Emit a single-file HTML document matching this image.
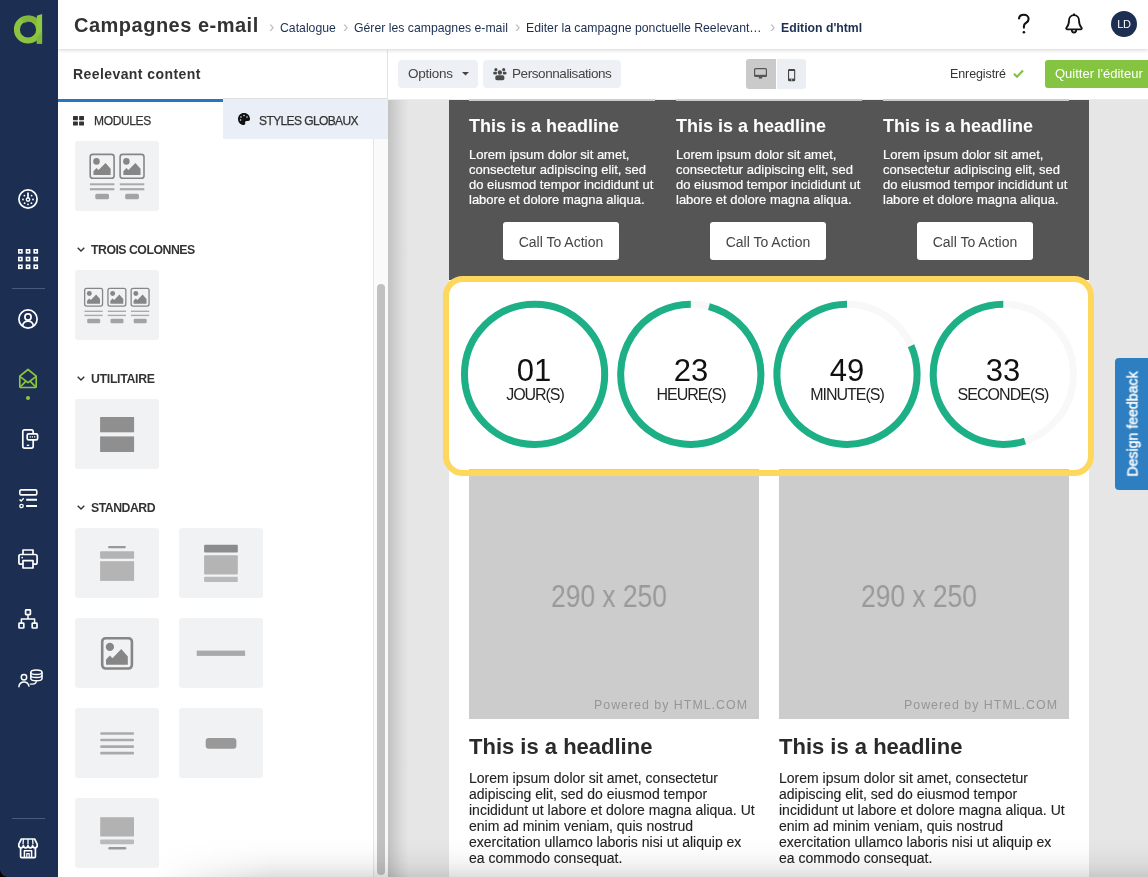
<!DOCTYPE html>
<html lang="fr">
<head>
<meta charset="utf-8">
<title>Campagnes e-mail</title>
<style>
*{box-sizing:border-box;margin:0;padding:0}
html,body{width:1148px;height:877px;overflow:hidden;background:#fff;font-family:"Liberation Sans",sans-serif;color:#333}
.abs{position:absolute}
#title,.bc,.bcsep,.btn span,.sect,.hl,.tx,.cta,.num,.lab,.t{will-change:transform}
#nav{position:absolute;left:0;top:0;width:58px;height:877px;background:#1c2f52;z-index:30}
#nav svg{position:absolute;left:17px}
#nav .sep{position:absolute;left:12px;width:33px;height:1px;background:#4a5a7a}
#header{position:absolute;left:58px;top:0;width:1090px;height:49px;background:#fff;z-index:20;box-shadow:0 1px 4px rgba(0,0,0,.18)}
#title{position:absolute;left:15.7px;top:14px;font-size:20px;font-weight:bold;color:#333;white-space:nowrap;letter-spacing:.5px}
.bc{position:absolute;top:21px;font-size:12.25px;color:#1c2f52;white-space:nowrap}
.bcsep{position:absolute;top:17.5px;font-size:16px;color:#b9bcc2}
#sub{position:absolute;left:58px;top:50px;width:1090px;height:49px;background:#fff;z-index:10}
#panel{position:absolute;left:58px;top:98px;width:330px;height:779px;background:#fff;z-index:5}
#canvas{position:absolute;left:388px;top:98px;width:760px;height:779px;background:#e6e6e6;overflow:hidden}
.btn{position:absolute;background:#edf1f5;border-radius:4px;font-size:13.5px;color:#444;white-space:nowrap}
.mod{position:absolute;width:84px;height:70px;background:#f1f2f4;border-radius:3px}
.sect{position:absolute;left:33px;font-size:12.3px;font-weight:bold;color:#333;white-space:nowrap;letter-spacing:-.5px}
.chev{position:absolute;left:19px}
.hl{position:absolute;font-weight:bold;white-space:nowrap}
.tx{position:absolute;font-size:14px;line-height:15px;white-space:nowrap}
.cta{position:absolute;width:116px;height:38px;background:#fff;border-radius:3px;color:#444;font-size:14px;text-align:center;line-height:40px}
.ph{position:absolute;background:#ccc}
.num{position:absolute;width:140px;text-align:center;font-size:31px;color:#111;white-space:nowrap}
.lab{position:absolute;width:140px;text-align:center;font-size:16px;color:#222;white-space:nowrap;letter-spacing:-.6px}
</style>
</head>
<body>
<!-- NAV -->
<div id="nav">
  <!-- logo -->
  <svg style="left:12px;top:12px" width="34" height="34" viewBox="0 0 34 34">
    <circle cx="16" cy="17.500" r="11.100" fill="none" stroke="#8bc53f" stroke-width="6"/>
    <path fill="#7fb23c" opacity=".8" d="M9.300 6.200a14.300 14.300 0 0 1 15.500-.3v6.700a8.300 8.300 0 0 0-12-1.400z"/>
    <path fill="#8fc940" d="M24.800 3.800L30.100 2v29.800h-5.300z"/>
    <path fill="#7fb23c" opacity=".8" d="M24.800 25.500l5.300-6.500v12.800h-5.300z"/>
  </svg>
  <!-- 1 dashboard -->
  <svg style="top:189px" width="22" height="20" viewBox="-1 0 22 20" fill="none" stroke="#fff" stroke-width="1.7">
    <circle cx="10" cy="10" r="9.1"/>
    <circle cx="10" cy="10.6" r="1.7" stroke-width="1.4"/>
    <path d="M10 8.8V4.2" stroke-linecap="round"/>
    <g fill="#fff" stroke="none"><circle cx="5" cy="10.5" r=".9"/><circle cx="15" cy="10.5" r=".9"/><circle cx="6.4" cy="6.6" r=".9"/><circle cx="13.6" cy="6.6" r=".9"/><circle cx="6.6" cy="14.2" r=".9"/><circle cx="13.4" cy="14.2" r=".9"/><circle cx="10" cy="15.4" r=".9"/></g>
  </svg>
  <!-- 2 grid -->
  <svg style="top:249px" width="22" height="21" viewBox="-1 0 22 21" fill="none" stroke="#fff" stroke-width="1.600">
    <rect x="0.80" y="0.80" width="3.100" height="3.100"/><rect x="8.50" y="0.80" width="3.100" height="3.100"/><rect x="16.20" y="0.80" width="3.100" height="3.100"/><rect x="0.80" y="8.50" width="3.100" height="3.100"/><rect x="8.50" y="8.50" width="3.100" height="3.100"/><rect x="16.20" y="8.50" width="3.100" height="3.100"/><rect x="0.80" y="16.20" width="3.100" height="3.100"/><rect x="8.50" y="16.20" width="3.100" height="3.100"/><rect x="16.20" y="16.20" width="3.100" height="3.100"/>
  </svg>
  <div class="sep" style="top:288px"></div>
  <!-- 3 user circle -->
  <svg style="top:309px" width="22" height="20" viewBox="-1 0 22 20" fill="none" stroke="#fff" stroke-width="1.7">
    <circle cx="10" cy="10" r="9.1"/>
    <circle cx="10" cy="8" r="3.1"/>
    <path d="M4.6 17c.4-3 2.6-4.9 5.4-4.9s5 1.900 5.400 4.900"/>
  </svg>
  <!-- 4 envelope (active) -->
  <svg style="top:368px" width="22" height="21" viewBox="-1 0 22 21" fill="none" stroke="#8cc63f" stroke-width="1.7" stroke-linejoin="round">
    <path d="M1.800 8.200L10 1.500l8.200 6.700v10.300a1 1 0 0 1-1 1H2.800a1 1 0 0 1-1-1z"/>
    <path d="M1.800 8.400L10 14.600l8.200-6.200"/>
    <path d="M2.200 19l5.800-5.900M17.800 19L12 13.100"/>
  </svg>
  <div style="position:absolute;left:26px;top:396px;width:4px;height:4px;border-radius:2px;background:#8cc63f"></div>
  <!-- 5 phone message -->
  <svg style="top:429px;left:21px" width="18" height="20" viewBox="0 0 18 20" fill="none" stroke="#fff" stroke-width="1.7" stroke-linejoin="round">
    <rect x="1.800" y=".9" width="10.400" height="18.200" rx="1.800"/>
    <rect x="6.200" y="4.800" width="10.400" height="6" rx="1.400" fill="#1c2f52"/>
    <path d="M8.600 7.800h5.600" stroke-width="1.200" stroke-dasharray="1.200 1" />
    <path d="M5.800 16.300h2.400" stroke-width="1.300"/>
  </svg>
  <!-- 6 checklist -->
  <svg style="top:489px" width="22" height="20" viewBox="-1 0 22 20" fill="none" stroke="#fff" stroke-width="1.600">
    <rect x="1.800" y=".9" width="17" height="5" rx="1.400"/>
    <path d="M3.800 3.400h.1" stroke-width="1.200"/>
    <path d="M1.600 10.600l1.500 1.500 2.600-2.900" stroke-width="1.400"/>
    <path d="M8.200 10.800h10.800M8.200 17h10.800" stroke-width="2"/>
    <circle cx="3.500" cy="17" r="1.700" stroke-width="1.300"/>
  </svg>
  <!-- 7 printer -->
  <svg style="top:549px" width="22" height="20" viewBox="-1 0 22 20" fill="none" stroke="#fff" stroke-width="1.700" stroke-linejoin="round">
    <path d="M5 5.400V1h10v4.400"/>
    <path d="M5 15.200H2.600A1.700 1.700 0 0 1 .9 13.500V7.300a1.800 1.800 0 0 1 1.800-1.800h14.600a1.800 1.800 0 0 1 1.800 1.800v6.200a1.700 1.700 0 0 1-1.700 1.700H15"/>
    <rect x="5" y="11.600" width="10" height="7.400"/>
    <circle cx="4.200" cy="8.600" r=".9" fill="#fff" stroke="none"/>
  </svg>
  <!-- 8 org chart -->
  <svg style="top:609px" width="22" height="20" viewBox="-1 0 22 20" fill="none" stroke="#fff" stroke-width="1.700" stroke-linejoin="round">
    <rect x="7.600" y=".9" width="4.800" height="4.800" rx=".6"/>
    <rect x="1" y="14.200" width="4.800" height="4.800" rx=".6"/>
    <rect x="14.200" y="14.200" width="4.800" height="4.800" rx=".6"/>
    <path d="M10 5.700V10M3.400 14.200V10h13.200v4.200" stroke-width="1.500"/>
  </svg>
  <!-- 9 user db -->
  <svg style="top:669px" width="27" height="20" viewBox="-1 0 27 20" fill="none" stroke="#fff" stroke-width="1.500" stroke-linejoin="round">
    <circle cx="6" cy="8.300" r="2.700"/>
    <path d="M.8 18.200c.3-3.400 2.400-5.200 5.200-5.200s4.500 1.500 5.100 4.700"/>
    <ellipse cx="18.400" cy="3.200" rx="5.600" ry="2.300"/>
    <path d="M12.800 3.200v6.200c0 1.300 2.500 2.300 5.600 2.300s5.600-1 5.600-2.300V3.200"/>
    <path d="M12.800 6.300c0 1.300 2.500 2.300 5.600 2.300s5.600-1 5.600-2.300"/>
    <path d="M18.400 11.800c0 2-1.600 3.300-4 3.300h-2.600" stroke-width="1.300"/>
  </svg>
  <div class="sep" style="top:818px"></div>
  <!-- 10 store -->
  <svg style="top:838px" width="22" height="21" viewBox="-1 0 22 21" fill="none" stroke="#fff" stroke-width="1.700" stroke-linejoin="round">
    <path d="M3.400 1h13.200l2.600 5.200v1.300a2.300 2.300 0 0 1-4.600 0a2.300 2.300 0 0 1-4.600 0a2.300 2.300 0 0 1-4.600 0a2.300 2.300 0 0 1-4.600 0V6.200z"/>
    <path d="M5.400 1.200L5 6.400M10 1.200v5.200M14.600 1.200l.4 5.200" stroke-width="1.300"/>
    <path d="M2.600 9.600v9a1 1 0 0 0 1 1h12.800a1 1 0 0 0 1-1v-9"/>
    <path d="M6.400 19.400v-6.600h7.200v6.600" stroke-width="1.500"/>
    <path d="M8.800 19.400v-3.800h2.400v3.800" stroke-width="1.200"/>
  </svg>
  <div style="position:absolute;left:0;bottom:0;width:8px;height:8px;background:radial-gradient(circle at 8px 0,rgba(0,0,0,0) 7.500px,#100 8.200px)"></div>
</div>

<!-- HEADER -->
<div id="header">
  <div id="title">Campagnes e-mail</div>
  <div class="bcsep" style="left:211px">&#8250;</div>
  <div class="bc" style="left:222px">Catalogue</div>
  <div class="bcsep" style="left:284.500px">&#8250;</div>
  <div class="bc" style="left:295.500px">Gérer les campagnes e-mail</div>
  <div class="bcsep" style="left:457px">&#8250;</div>
  <div class="bc" style="left:468px">Editer la campagne ponctuelle Reelevant…</div>
  <div class="bcsep" style="left:712px">&#8250;</div>
  <div class="bc" style="left:723px;font-weight:bold">Edition d'html</div>
  <!-- help -->
  <svg class="abs" style="left:958px;top:13px" width="16" height="22" viewBox="0 0 16 22" fill="none" stroke="#111" stroke-width="2.100" stroke-linecap="round">
    <path d="M3 5.400C3.400 3 5.400 1.800 7.800 1.800c2.800 0 4.800 1.700 4.800 4.200c0 2.400-1.600 3.200-3 4.200c-1.200.9-1.700 1.700-1.700 3.400v1"/>
    <circle cx="7.900" cy="19.300" r="1.300" fill="#111" stroke="none"/>
  </svg>
  <!-- bell -->
  <svg class="abs" style="left:1006px;top:13px" width="20" height="22" viewBox="0 0 20 22" fill="none" stroke="#111" stroke-width="1.800" stroke-linejoin="round" stroke-linecap="round">
    <path d="M10 2.200c-3.200 0-5 2.400-5 5.400c0 3.400-.8 5.300-2.600 7.200c-.5.600-.2 1.500.7 1.500h13.800c.9 0 1.200-.9.700-1.500c-1.800-1.900-2.600-3.800-2.600-7.200c0-3-1.800-5.400-5-5.400z"/>
    <path d="M10 2.200V1.200"/>
    <path d="M7.800 17c0 1.500 1 2.500 2.200 2.500s2.200-1 2.200-2.500"/>
  </svg>
  <div class="abs t" style="left:1053px;top:11px;width:26px;height:26px;border-radius:13px;background:#1c2f52;color:#fff;font-size:11px;text-align:center;line-height:26px;letter-spacing:-.3px">LD</div>
</div>

<!-- SUB HEADER -->
<div id="sub">
  <div class="abs t" style="left:14.500px;top:15.600px;font-size:14px;font-weight:bold;color:#333;letter-spacing:.42px;white-space:nowrap">Reelevant content</div>
  <div class="abs" style="left:329px;top:0;width:1px;height:49px;background:#e4e4e4"></div>
  <div class="abs" style="left:165px;top:48px;width:165px;height:1px;background:#e0e0e0"></div>
  <div class="btn" style="left:340px;top:10px;width:80px;height:28px"><span class="abs" style="left:10px;top:6px;letter-spacing:-.25px">Options</span>
    <svg class="abs" style="left:63.500px;top:12.400px" width="7" height="4" viewBox="0 0 7 4"><path d="M0 0h7L3.500 3.600z" fill="#444"/></svg></div>
  <div class="btn" style="left:425px;top:10px;width:138px;height:28px">
    <svg class="abs" style="left:9.800px;top:7.600px" width="14" height="13" viewBox="0 0 14 13" fill="#4a4a4a"><circle cx="2.900" cy="1.700" r="1.600"/><circle cx="10.700" cy="1.700" r="1.600"/><rect x=".2" y="3.700" width="3.800" height="2.800" rx="1.100"/><rect x="9.700" y="3.700" width="3.800" height="2.800" rx="1.100"/><circle cx="6.850" cy="4.500" r="2.900" fill="#edf1f5"/><circle cx="6.850" cy="4.500" r="2.200"/><path d="M2.300 10.600V9.300c0-1.200.9-2 2.100-2h4.900c1.200 0 2.100.8 2.100 2v1.300c0 .9-.7 1.600-1.600 1.600H3.900c-.9 0-1.600-.7-1.600-1.600z"/></svg>
    <span class="abs" style="left:28.800px;top:6px;letter-spacing:-.42px">Personnalisations</span></div>
  <div class="abs" style="left:688px;top:9px;width:30px;height:30px;background:#cacaca;border-radius:3px 0 0 3px">
    <svg class="abs" style="left:8.400px;top:8.600px" width="13" height="11" viewBox="0 0 13 11"><rect x=".6" y=".6" width="11.800" height="7.800" rx="1" fill="none" stroke="#555" stroke-width="1.200"/><rect x=".6" y="6.800" width="11.800" height="1.800" fill="#555"/><rect x="4.800" y="8.600" width="3.400" height="2" fill="#555"/></svg></div>
  <div class="abs" style="left:719px;top:9px;width:29px;height:30px;background:#ebeff3;border-radius:0 3px 3px 0">
    <svg class="abs" style="left:10.800px;top:9.800px" width="8" height="13" viewBox="0 0 8 13"><rect x="0" y="0" width="7.200" height="12.200" rx="1.300" fill="#444"/><rect x="1.100" y="2" width="5" height="7.600" fill="#ebeff3"/><circle cx="3.600" cy="10.900" r=".6" fill="#ebeff3"/></svg></div>
  <div class="abs t" style="left:892.300px;top:17.200px;font-size:12.500px;color:#333;white-space:nowrap;letter-spacing:-.1px">Enregistré</div>
  <svg class="abs" style="left:955.400px;top:18.800px" width="11" height="9" viewBox="0 0 11 9"><path d="M1 4.700l3 3L10 1.400" fill="none" stroke="#82c341" stroke-width="2.200"/></svg>
  <div class="abs" style="left:987px;top:10px;width:110px;height:28px;background:#85c441;border-radius:3px 0 0 3px;color:#fff;font-size:13px;white-space:nowrap"><span class="abs t" style="left:10.400px;top:6px">Quitter l'éditeur</span></div>
</div>

<!-- PANEL -->
<div id="panel">
  <div class="abs" style="left:0;top:1px;width:165px;height:3px;background:#2479be"></div>
  <div class="abs" style="left:165px;top:0;width:165px;height:41px;background:#e9eef7"></div>
  <svg class="abs" style="left:15px;top:17.600px" width="11" height="10" viewBox="0 0 11 10" fill="#333"><rect x="0" y="0" width="4.900" height="4.200" rx=".6"/><rect x="6.100" y="0" width="4.900" height="4.200" rx=".6"/><rect x="0" y="5.400" width="4.900" height="4.200" rx=".6"/><rect x="6.100" y="5.400" width="4.900" height="4.200" rx=".6"/></svg>
  <div class="abs t" style="left:35.500px;top:15.500px;font-size:12px;color:#333;letter-spacing:-.35px;-webkit-text-stroke:.25px #333;white-space:nowrap">MODULES</div>
  <svg class="abs" style="left:180px;top:15px" width="12" height="12" viewBox="0 0 12 12"><path fill="#111" d="M6 0C2.600 0 0 2.600 0 6s2.600 6 5.700 6c1.300 0 1.800-1 1.500-1.900c-.4-1.200.3-2.100 1.600-2.100h1.400C11.300 8 12 7.300 12 6C12 2.600 9.400 0 6 0z"/><circle cx="3" cy="4" r=".8" fill="#e9eef7"/><circle cx="6" cy="2.500" r=".8" fill="#e9eef7"/><circle cx="9" cy="4" r=".8" fill="#e9eef7"/><circle cx="2.600" cy="7" r=".8" fill="#e9eef7"/></svg>
  <div class="abs t" style="left:200.600px;top:15.500px;font-size:12px;color:#333;letter-spacing:-.6px;-webkit-text-stroke:.25px #333;white-space:nowrap">STYLES GLOBAUX</div>
  <div class="abs" style="left:315px;top:41px;width:15px;height:738px;background:#fafafa;border-left:1px solid #e6e6e6"></div>
  <div class="abs" style="left:319px;top:186px;width:8px;height:591px;border-radius:4px;background:#c1c1c1"></div>
  <div class="mod" style="left:17px;top:43px"><svg width="84" height="70" viewBox="0 0 84 70"><rect x="15.20" y="13.40" width="23.90" height="23.90" rx="2.6" fill="none" stroke="#868686" stroke-width="1.6"/><circle cx="21.49" cy="20.38" r="3.26" fill="#868686"/><path fill="#868686" d="M18.45 34.12L18.45 30.14L21.49 27.03L23.50 29.12L30.52 21.88L35.64 27.75L35.64 34.12z"/><rect x="14.9" y="42.300" width="24.500" height="2" fill="#aaa"/><rect x="14.9" y="47.100" width="24.500" height="2.200" fill="#aaa"/><rect x="20.3" y="52.800" width="13.700" height="5.400" rx="1.500" fill="#a3a3a3"/><rect x="45.10" y="13.40" width="23.90" height="23.90" rx="2.6" fill="none" stroke="#868686" stroke-width="1.6"/><circle cx="51.39" cy="20.38" r="3.26" fill="#868686"/><path fill="#868686" d="M48.35 34.12L48.35 30.14L51.39 27.03L53.40 29.12L60.42 21.88L65.54 27.75L65.54 34.12z"/><rect x="44.8" y="42.300" width="24.500" height="2" fill="#aaa"/><rect x="44.8" y="47.100" width="24.500" height="2.200" fill="#aaa"/><rect x="50.2" y="52.800" width="13.700" height="5.400" rx="1.500" fill="#a3a3a3"/></svg></div>
  <svg class="chev" style="top:149px" width="8" height="5" viewBox="0 0 8 5"><path d="M.7.700L4 4l3.300-3.300" fill="none" stroke="#333" stroke-width="1.400"/></svg>
  <div class="sect" style="top:145px">TROIS COLONNES</div>
  <div class="mod" style="left:17px;top:172px"><svg width="84" height="70" viewBox="0 0 84 70"><rect x="9.65" y="18.35" width="17.90" height="17.70" rx="2.0" fill="none" stroke="#868686" stroke-width="1.3"/><circle cx="14.34" cy="23.49" r="2.46" fill="#868686"/><path fill="#868686" d="M12.05 33.74L12.05 30.77L14.34 28.45L15.85 30.01L21.13 24.62L24.99 28.99L24.99 33.74z"/><rect x="9.5" y="40.600" width="18.200" height="1.400" fill="#aaa"/><rect x="9.5" y="44.700" width="18.200" height="1.400" fill="#aaa"/><rect x="12.2" y="48.800" width="13" height="4.400" rx="1.200" fill="#a3a3a3"/><rect x="32.95" y="18.35" width="17.90" height="17.70" rx="2.0" fill="none" stroke="#868686" stroke-width="1.3"/><circle cx="37.64" cy="23.49" r="2.46" fill="#868686"/><path fill="#868686" d="M35.35 33.74L35.35 30.77L37.64 28.45L39.15 30.01L44.43 24.62L48.29 28.99L48.29 33.74z"/><rect x="32.8" y="40.600" width="18.200" height="1.400" fill="#aaa"/><rect x="32.8" y="44.700" width="18.200" height="1.400" fill="#aaa"/><rect x="35.5" y="48.800" width="13" height="4.400" rx="1.200" fill="#a3a3a3"/><rect x="56.15" y="18.35" width="17.90" height="17.70" rx="2.0" fill="none" stroke="#868686" stroke-width="1.3"/><circle cx="60.84" cy="23.49" r="2.46" fill="#868686"/><path fill="#868686" d="M58.55 33.74L58.55 30.77L60.84 28.45L62.35 30.01L67.63 24.62L71.49 28.99L71.49 33.74z"/><rect x="56.0" y="40.600" width="18.200" height="1.400" fill="#aaa"/><rect x="56.0" y="44.700" width="18.200" height="1.400" fill="#aaa"/><rect x="58.7" y="48.800" width="13" height="4.400" rx="1.200" fill="#a3a3a3"/></svg></div>
  <svg class="chev" style="top:278px" width="8" height="5" viewBox="0 0 8 5"><path d="M.7.700L4 4l3.300-3.300" fill="none" stroke="#333" stroke-width="1.400"/></svg>
  <div class="sect" style="top:273.500px;letter-spacing:-.3px">UTILITAIRE</div>
  <div class="mod" style="left:17px;top:301px"><svg width="84" height="70" viewBox="0 0 84 70"><rect x="25.100" y="18" width="34" height="15.300" fill="#8f8f8f"/><rect x="25.100" y="37.400" width="34" height="15.600" fill="#8f8f8f"/></svg></div>
  <svg class="chev" style="top:407px" width="8" height="5" viewBox="0 0 8 5"><path d="M.7.700L4 4l3.300-3.300" fill="none" stroke="#333" stroke-width="1.400"/></svg>
  <div class="sect" style="top:402.500px">STANDARD</div>
  <div class="mod" style="left:17px;top:430px"><svg width="84" height="70" viewBox="0 0 84 70"><rect x="33" y="17.900" width="17.900" height="2.400" rx="1.200" fill="#999"/><rect x="25.100" y="23.300" width="34" height="7.400" rx="1" fill="#b4b4b4"/><rect x="25.100" y="33.200" width="34" height="19.700" fill="#b4b4b4"/></svg></div>
  <div class="mod" style="left:121px;top:430px"><svg width="84" height="70" viewBox="0 0 84 70"><rect x="25.100" y="16.800" width="33.700" height="7.600" rx="1" fill="#8c8c8c"/><rect x="25.100" y="27.200" width="33.700" height="19.400" rx="1" fill="#b4b4b4"/><rect x="25.100" y="48.800" width="33.700" height="5.200" rx="1" fill="#bababa"/></svg></div>
  <div class="mod" style="left:17px;top:520px"><svg width="84" height="70" viewBox="0 0 84 70"><rect x="27.20" y="20.20" width="29.70" height="30.30" rx="3.4" fill="none" stroke="#868686" stroke-width="2.6"/><circle cx="34.88" cy="28.93" r="4.13" fill="#868686"/><path fill="#868686" d="M31.04 46.67L31.04 41.54L34.88 37.52L37.43 40.22L46.31 30.88L52.81 38.44L52.81 46.67z"/></svg></div>
  <div class="mod" style="left:121px;top:520px"><svg width="84" height="70" viewBox="0 0 84 70"><rect x="17.700" y="32.600" width="48.400" height="5.300" fill="#aaa"/></svg></div>
  <div class="mod" style="left:17px;top:610px"><svg width="84" height="70" viewBox="0 0 84 70"><rect x="25.200" y="24.2" width="33.800" height="2.600" rx="1" fill="#aaa"/><rect x="25.200" y="30.7" width="33.800" height="2.600" rx="1" fill="#aaa"/><rect x="25.200" y="37.3" width="33.800" height="2.600" rx="1" fill="#aaa"/><rect x="25.200" y="43.8" width="33.800" height="2.600" rx="1" fill="#aaa"/></svg></div>
  <div class="mod" style="left:121px;top:610px"><svg width="84" height="70" viewBox="0 0 84 70"><rect x="26.700" y="30.100" width="30.700" height="10.600" rx="3" fill="#999"/></svg></div>
  <div class="mod" style="left:17px;top:700px"><svg width="84" height="70" viewBox="0 0 84 70"><rect x="25.200" y="19.200" width="33.800" height="19.300" fill="#b2b2b2"/><rect x="25.200" y="41.600" width="33.800" height="4.600" rx="1" fill="#bababa"/><rect x="33.300" y="49" width="18" height="2.500" rx="1.200" fill="#999"/></svg></div>
</div>

<!-- CANVAS -->
<div id="canvas">
<div class="abs" style="left:0;top:0;width:21px;height:779px;background:linear-gradient(90deg,#c2c2c2 0,#cdcdcd 28%,#dadada 60%,#e6e6e6 100%)"></div>
<div class="abs" style="left:61px;top:1px;width:640px;height:778px;background:#fff"></div>
<div class="abs" style="left:0;top:1px;width:760px;height:1px;background:#ececec"></div>
<div class="abs" style="left:61px;top:2px;width:640px;height:180px;background:#555"></div>
<div class="ph" style="left:81px;top:0;width:186px;height:3px"></div>
<div class="hl" style="left:81px;top:18.0px;font-size:18px;line-height:20px;color:#fff">This is a headline</div>
<div class="tx" style="left:81px;top:49.0px;font-size:13px;line-height:15px;color:#fff;-webkit-text-stroke:.2px #fff">Lorem ipsum dolor sit amet,<br>consectetur adipiscing elit, sed<br>do eiusmod tempor incididunt ut<br>labore et dolore magna aliqua.</div>
<div class="cta" style="left:115px;top:124px">Call To Action</div>
<div class="ph" style="left:288px;top:0;width:186px;height:3px"></div>
<div class="hl" style="left:288px;top:18.0px;font-size:18px;line-height:20px;color:#fff">This is a headline</div>
<div class="tx" style="left:288px;top:49.0px;font-size:13px;line-height:15px;color:#fff;-webkit-text-stroke:.2px #fff">Lorem ipsum dolor sit amet,<br>consectetur adipiscing elit, sed<br>do eiusmod tempor incididunt ut<br>labore et dolore magna aliqua.</div>
<div class="cta" style="left:322px;top:124px">Call To Action</div>
<div class="ph" style="left:495px;top:0;width:186px;height:3px"></div>
<div class="hl" style="left:495px;top:18.0px;font-size:18px;line-height:20px;color:#fff">This is a headline</div>
<div class="tx" style="left:495px;top:49.0px;font-size:13px;line-height:15px;color:#fff;-webkit-text-stroke:.2px #fff">Lorem ipsum dolor sit amet,<br>consectetur adipiscing elit, sed<br>do eiusmod tempor incididunt ut<br>labore et dolore magna aliqua.</div>
<div class="cta" style="left:529px;top:124px">Call To Action</div>
<svg class="abs" style="left:61px;top:182px" width="640" height="190" viewBox="449 280 640 190"><circle cx="534.6" cy="374.3" r="70.1" fill="none" stroke="#f8f8f8" stroke-width="7.0"/><circle cx="534.6" cy="374.3" r="70.1" fill="none" stroke="#1daf85" stroke-width="7.0"/><circle cx="690.8" cy="374.3" r="70.1" fill="none" stroke="#f8f8f8" stroke-width="7.0"/><path d="M690.80 304.20A70.1 70.1 0 1 0 708.94 306.59" fill="none" stroke="#1daf85" stroke-width="7.0"/><circle cx="847.0" cy="374.3" r="70.1" fill="none" stroke="#f8f8f8" stroke-width="7.0"/><path d="M847.00 304.20A70.1 70.1 0 1 0 911.04 345.79" fill="none" stroke="#1daf85" stroke-width="7.0"/><circle cx="1003.3" cy="374.3" r="70.1" fill="none" stroke="#f8f8f8" stroke-width="7.0"/><path d="M1003.30 304.20A70.1 70.1 0 1 0 1024.96 440.97" fill="none" stroke="#1daf85" stroke-width="7.0"/></svg>
<div class="num" style="left:75.6px;top:255.0px">01</div><div class="lab" style="left:76.6px;top:288.0px;letter-spacing:-1.05px">JOUR(S)</div>
<div class="num" style="left:232.8px;top:255.0px">23</div><div class="lab" style="left:232.8px;top:288.0px;letter-spacing:-1.05px">HEURE(S)</div>
<div class="num" style="left:389.0px;top:255.0px">49</div><div class="lab" style="left:389.0px;top:288.0px;letter-spacing:-1.00px">MINUTE(S)</div>
<div class="num" style="left:545.3px;top:255.0px">33</div><div class="lab" style="left:545.3px;top:288.0px;letter-spacing:-0.95px">SECONDE(S)</div>
<div class="ph" style="left:81px;top:371px;width:290px;height:250px"></div>
<div class="abs t" style="left:151.0px;top:481.0px;width:140px;text-align:center;font-size:30.500px;color:#999;white-space:nowrap;transform:scaleX(.865);transform-origin:50% 50%">290 x 250</div>
<div class="abs t" style="left:206.0px;top:600.0px;font-size:12.400px;color:#969696;white-space:nowrap;letter-spacing:1px">Powered by HTML.COM</div>
<div class="hl" style="left:81px;top:636.6px;font-size:22px;line-height:24px;color:#2a2a2a">This is a headline</div>
<div class="tx" style="left:81px;top:672.0px;font-size:14px;line-height:16px;color:#222;-webkit-text-stroke:.12px #222">Lorem ipsum dolor sit amet, consectetur<br>adipiscing elit, sed do eiusmod tempor<br>incididunt ut labore et dolore magna aliqua. Ut<br>enim ad minim veniam, quis nostrud<br>exercitation ullamco laboris nisi ut aliquip ex<br>ea commodo consequat.</div>
<div class="ph" style="left:391px;top:371px;width:290px;height:250px"></div>
<div class="abs t" style="left:461.0px;top:481.0px;width:140px;text-align:center;font-size:30.500px;color:#999;white-space:nowrap;transform:scaleX(.865);transform-origin:50% 50%">290 x 250</div>
<div class="abs t" style="left:516.0px;top:600.0px;font-size:12.400px;color:#969696;white-space:nowrap;letter-spacing:1px">Powered by HTML.COM</div>
<div class="hl" style="left:391px;top:636.6px;font-size:22px;line-height:24px;color:#2a2a2a">This is a headline</div>
<div class="tx" style="left:391px;top:672.0px;font-size:14px;line-height:16px;color:#222;-webkit-text-stroke:.12px #222">Lorem ipsum dolor sit amet, consectetur<br>adipiscing elit, sed do eiusmod tempor<br>incididunt ut labore et dolore magna aliqua. Ut<br>enim ad minim veniam, quis nostrud<br>exercitation ullamco laboris nisi ut aliquip ex<br>ea commodo consequat.</div>

<div class="abs" style="left:55px;top:178px;width:651px;height:200px;border:6px solid #fdd85d;border-radius:20px"></div>
<div class="abs" style="left:726.500px;top:260px;width:40px;height:131.500px;background:#2e7fc1;border-radius:4px"></div>
<div class="abs t" style="left:679px;top:315.500px;width:131px;height:20px;line-height:20px;text-align:center;color:#fff;font-size:14.500px;-webkit-text-stroke:.4px #fff;white-space:nowrap;transform:rotate(-90deg) scaleX(.975);transform-origin:50% 50%">Design feedback</div>
</div>
<div class="abs" style="left:58px;top:838px;width:1090px;height:39px;z-index:40;background:linear-gradient(180deg,rgba(0,0,0,0) 0,rgba(0,0,0,.012) 30%,rgba(0,0,0,.04) 60%,rgba(0,0,0,.075) 80%,rgba(0,0,0,.125) 100%);-webkit-mask-image:linear-gradient(90deg,rgba(0,0,0,0) 95px,#000 215px);mask-image:linear-gradient(90deg,rgba(0,0,0,0) 95px,#000 215px)"></div>

</body>
</html>
